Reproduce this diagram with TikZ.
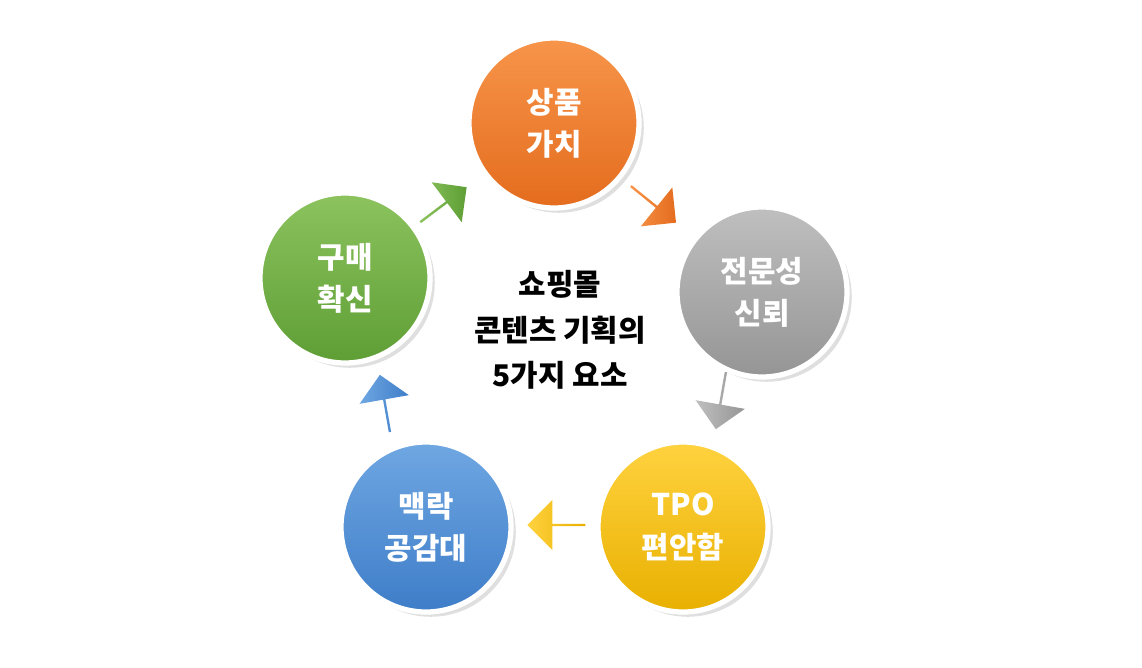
\documentclass[tikz,border=0pt]{standalone}
\usepackage{fontspec}
\setmainfont{Noto Sans CJK KR}
\usetikzlibrary{shapes.arrows,shadows}
\definecolor{orangeA}{HTML}{F7954A}\definecolor{orangeB}{HTML}{E46C1E}
\definecolor{grayA}{HTML}{BFBFBF}\definecolor{grayB}{HTML}{959595}
\definecolor{yellowA}{HTML}{FFD23F}\definecolor{yellowB}{HTML}{E8B000}
\definecolor{blueA}{HTML}{6FA7E2}\definecolor{blueB}{HTML}{3E7DC8}
\definecolor{greenA}{HTML}{8CC35E}\definecolor{greenB}{HTML}{5E9E35}
\tikzset{
  ball/.style 2 args={circle, minimum size=170\unit, draw=white, line width=3pt,
    top color=#1, bottom color=#2, text=white, font=\bfseries\fontsize{17}{24}\selectfont,
    align=center, drop shadow={opacity=0.25}},
  blockarrow/.style 2 args={single arrow, minimum height=58\unit, minimum width=50\unit,
    single arrow head extend=7\unit, inner sep=0pt, left color=#1, right color=#2, draw=none},
}
\newcommand{\unit}{*0.02cm}
\begin{document}
\begin{tikzpicture}[x=0.02cm,y=-0.02cm]
\useasboundingbox (0,0) rectangle (1142,667);
\node (value)[ball={orangeA}{orangeB}] at (554,123) {상품\\가치};
\node (trust)[ball={grayA}{grayB}] at (762,292) {전문성\\신뢰};
\node (tpo)[ball={yellowA}{yellowB}] at (683,527) {TPO\\편안함};
\node (context)[ball={blueA}{blueB}] at (426,527) {맥락\\공감대};
\node (buy)[ball={greenA}{greenB}] at (345,278) {구매\\확신};

\node (title)[align=center, font=\bfseries\fontsize{17}{26}\selectfont] at (560,330)
  {쇼핑몰\\콘텐츠 기획의\\ 5가지 요소};

\node (a1)[blockarrow={orangeA}{orangeB}, rotate=-39] at (653,204) {};
\node (a2)[blockarrow={grayA}{grayB}, rotate=-100] at (721,400) {};
\node (a3)[blockarrow={yellowA}{yellowB}, rotate=180] at (557,525) {};
\node (a4)[blockarrow={blueA}{blueB}, rotate=100] at (385,404) {};
\node (a5)[blockarrow={greenA}{greenB}, rotate=37] at (443,205) {};
\end{tikzpicture}
\end{document}
